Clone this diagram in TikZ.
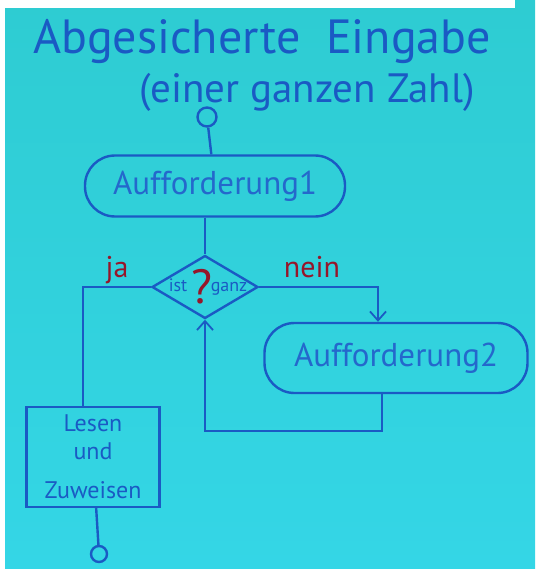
\documentclass[tikz,border=0pt]{standalone}
\usepackage{fontspec}
\setmainfont{PT Sans}
\usetikzlibrary{shapes.geometric,arrows.meta}
\definecolor{board}{RGB}{52,214,230}
\definecolor{boardtop}{RGB}{46,204,210}
\definecolor{ink}{RGB}{26,90,196}
\definecolor{inktext}{RGB}{36,104,204}
\definecolor{redink}{RGB}{150,22,42}
\newcommand{\fs}[1]{\fontsize{#1}{1.15\dimexpr #1pt\relax}\selectfont}
\begin{document}
\begin{tikzpicture}[x=1pt,y=-1pt,
  line/.style={ink,line width=2.4pt},
  arr/.style={line,-{Straight Barb[length=9pt,width=16pt,line width=1.8pt]}},
  term/.style={circle,draw=ink,line width=2.4pt,minimum size=19pt,inner sep=0pt},
  prompt/.style={draw=ink,line width=2.4pt,rounded corners=30pt,text=inktext,font=\fs{33}},
  decision/.style={diamond,draw=ink,line width=2.4pt,inner sep=0pt,minimum width=106pt,minimum height=63pt},
  work/.style={draw=ink,line width=2.4pt,text=ink,font=\fs{24},align=center,minimum width=133pt,minimum height=100pt},
  answer/.style={text=redink,font=\fs{30}}]
\useasboundingbox (0,0) rectangle (535,569);
\shade[top color=boardtop,bottom color=board] (0,0) rectangle (535,569);
\fill[white] (0,0) rectangle (5,569);
\fill[white] (0,0) rectangle (515,8);

\node[text=ink,font=\fs{48}] (title) at (262,42) {Abgesicherte\ \ Eingabe};
\node[text=ink,font=\fs{41}] (sub) at (307,92) {(einer ganzen Zahl)};

\node[term] (start) at (207,117) {};
\node[prompt,minimum width=260pt,minimum height=61pt] (auf1) at (215,186) {Aufforderung1};
\node[decision] (test) at (205,287) {};
\node[text=ink,font=\fs{18},anchor=base] (ist) at (178,291) {ist};
\node[text=ink,font=\fs{18},anchor=base] (ganz) at (229,291) {ganz};
\node[text=redink,font=\fs{48}] (mark) at (202,287) {?};
\node[prompt,minimum width=263pt,minimum height=70pt] (auf2) at (396,358) {Aufforderung2};
\node[work] (read) at (93,457) {Lesen\\und\\[12pt]Zuweisen};
\node[term,minimum size=16pt] (stop) at (99,554) {};
\node[answer] (ja) at (117,270) {ja};
\node[answer] (nein) at (312,267) {nein};

\draw[line] (start) -- (auf1);
\draw[line] (test.north |- auf1.south) -- (test.north);
\draw[line] (test.west) -| ([xshift=-10pt]read.north);
\draw[arr] (test.east) -| ([xshift=-18pt]auf2.north);
\draw[arr] ([xshift=-14pt]auf2.south) -- ++(0,37) -| (test.south);
\draw[line] (read) -- (stop);
\end{tikzpicture}
\end{document}
